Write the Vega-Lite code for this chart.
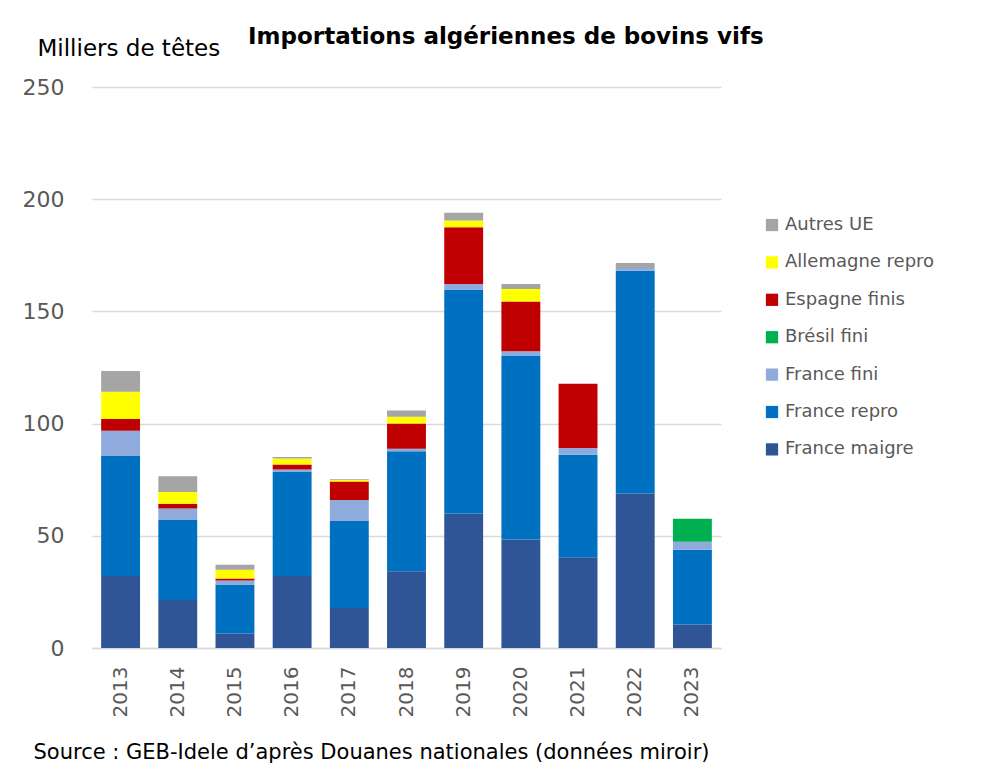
{
  "$schema": "https://vega.github.io/schema/vega-lite/v6.json",
  "autosize": "none",
  "width": 629,
  "height": 561,
  "padding": {"left": 92, "top": 87, "right": 272, "bottom": 124},
  "background": "#ffffff",
  "title": {
    "text": "Importations algériennes de bovins vifs",
    "anchor": "start",
    "frame": "group",
    "dx": 156,
    "offset": -30,
    "baseline": "alphabetic",
    "font": "DejaVu Sans",
    "fontSize": 23,
    "fontWeight": "bold",
    "color": "#000000"
  },
  "data": {
    "values": [
      {"annee": "2013", "serie": "France maigre", "valeur": 32.1},
      {"annee": "2013", "serie": "France repro", "valeur": 53.5},
      {"annee": "2013", "serie": "France fini", "valeur": 11.2},
      {"annee": "2013", "serie": "Espagne finis", "valeur": 5.2},
      {"annee": "2013", "serie": "Allemagne repro", "valeur": 12.2},
      {"annee": "2013", "serie": "Autres UE", "valeur": 9.2},
      {"annee": "2014", "serie": "France maigre", "valeur": 21.4},
      {"annee": "2014", "serie": "France repro", "valeur": 35.9},
      {"annee": "2014", "serie": "France fini", "valeur": 4.9},
      {"annee": "2014", "serie": "Espagne finis", "valeur": 2.1},
      {"annee": "2014", "serie": "Allemagne repro", "valeur": 5.2},
      {"annee": "2014", "serie": "Autres UE", "valeur": 7.0},
      {"annee": "2015", "serie": "France maigre", "valeur": 6.5},
      {"annee": "2015", "serie": "France repro", "valeur": 21.8},
      {"annee": "2015", "serie": "France fini", "valeur": 1.8},
      {"annee": "2015", "serie": "Espagne finis", "valeur": 0.9},
      {"annee": "2015", "serie": "Allemagne repro", "valeur": 3.9},
      {"annee": "2015", "serie": "Autres UE", "valeur": 2.2},
      {"annee": "2016", "serie": "France maigre", "valeur": 32.1},
      {"annee": "2016", "serie": "France repro", "valeur": 46.6},
      {"annee": "2016", "serie": "France fini", "valeur": 0.9},
      {"annee": "2016", "serie": "Espagne finis", "valeur": 2.2},
      {"annee": "2016", "serie": "Allemagne repro", "valeur": 2.6},
      {"annee": "2016", "serie": "Autres UE", "valeur": 0.7},
      {"annee": "2017", "serie": "France maigre", "valeur": 17.8},
      {"annee": "2017", "serie": "France repro", "valeur": 38.8},
      {"annee": "2017", "serie": "France fini", "valeur": 9.4},
      {"annee": "2017", "serie": "Espagne finis", "valeur": 8.2},
      {"annee": "2017", "serie": "Allemagne repro", "valeur": 0.8},
      {"annee": "2017", "serie": "Autres UE", "valeur": 0.3},
      {"annee": "2018", "serie": "France maigre", "valeur": 34.2},
      {"annee": "2018", "serie": "France repro", "valeur": 53.5},
      {"annee": "2018", "serie": "France fini", "valeur": 1.1},
      {"annee": "2018", "serie": "Espagne finis", "valeur": 11.3},
      {"annee": "2018", "serie": "Allemagne repro", "valeur": 3.0},
      {"annee": "2018", "serie": "Autres UE", "valeur": 2.7},
      {"annee": "2019", "serie": "France maigre", "valeur": 59.9},
      {"annee": "2019", "serie": "France repro", "valeur": 99.6},
      {"annee": "2019", "serie": "France fini", "valeur": 2.7},
      {"annee": "2019", "serie": "Espagne finis", "valeur": 25.3},
      {"annee": "2019", "serie": "Allemagne repro", "valeur": 3.0},
      {"annee": "2019", "serie": "Autres UE", "valeur": 3.5},
      {"annee": "2020", "serie": "France maigre", "valeur": 48.4},
      {"annee": "2020", "serie": "France repro", "valeur": 82.0},
      {"annee": "2020", "serie": "France fini", "valeur": 1.8},
      {"annee": "2020", "serie": "Espagne finis", "valeur": 22.2},
      {"annee": "2020", "serie": "Allemagne repro", "valeur": 5.6},
      {"annee": "2020", "serie": "Autres UE", "valeur": 2.2},
      {"annee": "2021", "serie": "France maigre", "valeur": 40.4},
      {"annee": "2021", "serie": "France repro", "valeur": 45.7},
      {"annee": "2021", "serie": "France fini", "valeur": 3.0},
      {"annee": "2021", "serie": "Espagne finis", "valeur": 28.7},
      {"annee": "2022", "serie": "France maigre", "valeur": 68.8},
      {"annee": "2022", "serie": "France repro", "valeur": 99.3},
      {"annee": "2022", "serie": "France fini", "valeur": 1.2},
      {"annee": "2022", "serie": "Autres UE", "valeur": 2.3},
      {"annee": "2023", "serie": "France maigre", "valeur": 10.5},
      {"annee": "2023", "serie": "France repro", "valeur": 33.3},
      {"annee": "2023", "serie": "France fini", "valeur": 3.6},
      {"annee": "2023", "serie": "Brésil fini", "valeur": 10.2}
    ]
  },
  "transform": [
    {"calculate": "indexof(['France maigre','France repro','France fini','Brésil fini','Espagne finis','Allemagne repro','Autres UE'], datum.serie)", "as": "rang"}
  ],
  "mark": {"type": "bar"},
  "encoding": {
    "x": {
      "field": "annee",
      "type": "nominal",
      "scale": {"paddingInner": 0.32, "paddingOuter": 0.16},
      "axis": {
        "labelAngle": -90,
        "labelFont": "DejaVu Sans",
        "labelFontSize": 20,
        "labelColor": "#595959",
        "labelPadding": 18,
        "ticks": false,
        "domainColor": "#D9D9D9",
        "domainWidth": 1.5,
        "title": "Source : GEB-Idele d’après Douanes nationales (données miroir)",
        "titleFont": "DejaVu Sans",
        "titleFontSize": 21,
        "titleFontWeight": "normal",
        "titleColor": "#000000",
        "titleAngle": 0,
        "titleAlign": "left",
        "titleAnchor": "start",
        "titleBaseline": "alphabetic",
        "titleX": -59,
        "titleY": 110
      }
    },
    "y": {
      "field": "valeur",
      "type": "quantitative",
      "stack": "zero",
      "scale": {"domain": [0, 250], "nice": false},
      "axis": {
        "values": [0, 50, 100, 150, 200, 250],
        "labelFont": "DejaVu Sans",
        "labelFontSize": 22,
        "labelColor": "#595959",
        "labelPadding": 28,
        "ticks": false,
        "domain": false,
        "grid": true,
        "gridColor": "#D9D9D9",
        "gridWidth": 1.5,
        "title": "Milliers de têtes",
        "titleFont": "DejaVu Sans",
        "titleFontSize": 23,
        "titleFontWeight": "normal",
        "titleColor": "#000000",
        "titleAngle": 0,
        "titleAlign": "left",
        "titleBaseline": "alphabetic",
        "titleX": -55,
        "titleY": -32
      }
    },
    "color": {
      "field": "serie",
      "type": "nominal",
      "scale": {
        "domain": ["Autres UE", "Allemagne repro", "Espagne finis", "Brésil fini", "France fini", "France repro", "France maigre"],
        "range": ["#A5A5A5", "#FFFF00", "#C00000", "#00B050", "#8FAADC", "#0070C0", "#2F5597"]
      },
      "legend": {
        "title": null,
        "orient": "none",
        "legendX": 671,
        "legendY": 129,
        "symbolType": "square",
        "symbolSize": 150,
        "symbolStrokeWidth": 0,
        "labelFont": "DejaVu Sans",
        "labelFontSize": 18,
        "labelColor": "#595959",
        "labelOffset": 4,
        "rowPadding": 19.4,
        "padding": 0
      }
    },
    "order": {"field": "rang", "type": "quantitative", "sort": "ascending"}
  },
  "config": {
    "view": {"stroke": null}
  }
}
